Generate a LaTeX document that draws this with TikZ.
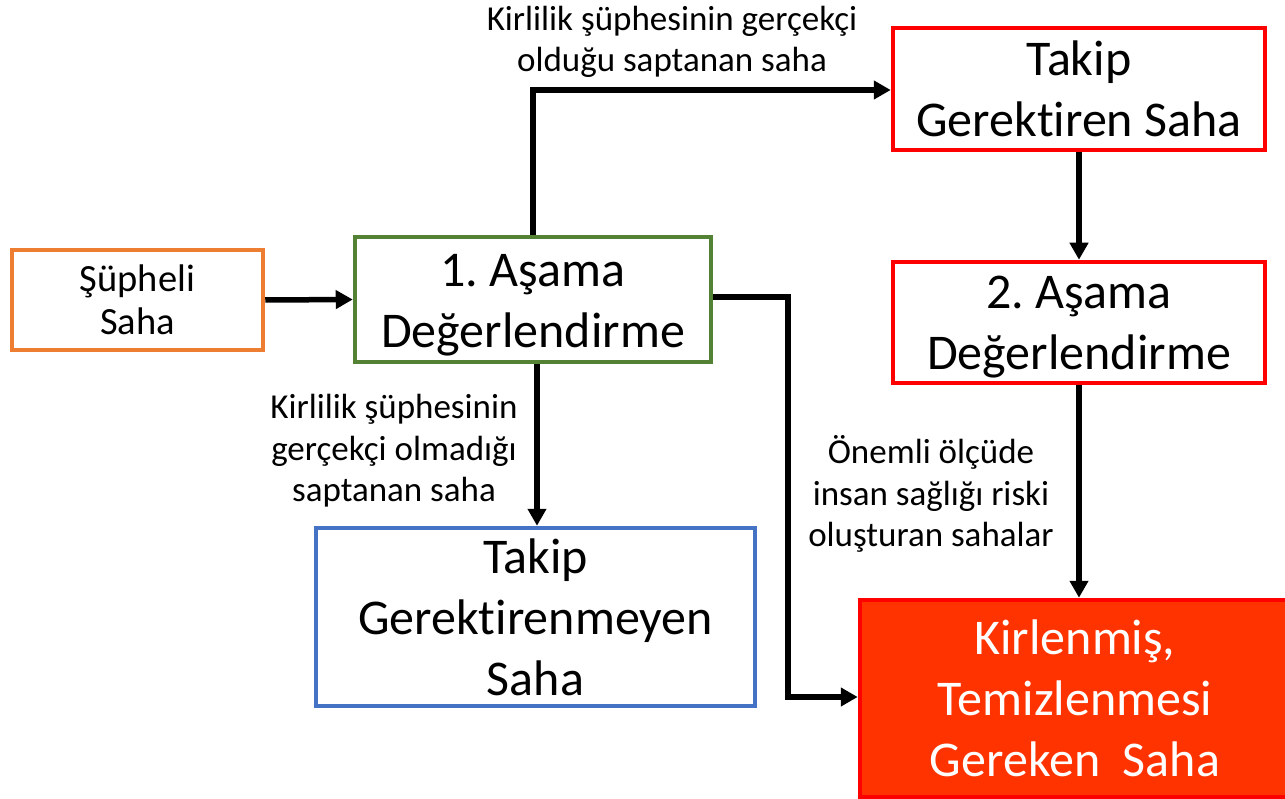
\documentclass[tikz,border=0pt]{standalone}
\usepackage{fontspec}
\setmainfont{Carlito}[Ligatures=NoCommon]
\frenchspacing
\usetikzlibrary{arrows.meta}
\definecolor{orangeb}{HTML}{ED7D31}
\definecolor{greenb}{HTML}{548235}
\definecolor{blueb}{HTML}{4472C4}
\definecolor{redb}{HTML}{FF0000}
\definecolor{redfill}{HTML}{FF3300}
\tikzset{
  box/.style={draw, line width=4.5pt, align=center, inner sep=0pt},
  bigtxt/.style={font=\fontsize{50}{61}\selectfont},
  txt/.style={align=center, inner sep=0pt},
  lbl/.style={align=center, inner sep=0pt, font=\fontsize{35}{41.5}\selectfont},
  conn/.style={line width=5.5pt, -{Triangle[length=17pt,width=18pt]}},
}
\begin{document}
\begin{tikzpicture}[x=1pt,y=-1pt]
\useasboundingbox (0,0) rectangle (1285,799);
\node[box, draw=orangeb, minimum width=251pt, minimum height=100pt, font=\fontsize{38.5}{43}\selectfont] (sup) at (137.5,300) {Şüpheli\\Saha};
\node[box, draw=greenb, minimum width=356pt, minimum height=125pt] (a1) at (533,299.5) {};
\node[txt, bigtxt] (a1t) at ([yshift=-6pt]a1.center) {1. Aşama\\Değerlendirme};
\node[box, bigtxt, draw=redb, minimum width=372pt, minimum height=122pt] (tg) at (1079,89) {Takip\\Gerektiren Saha};
\node[box, draw=redb, minimum width=372pt, minimum height=121pt] (a2) at (1079,322.5) {};
\node[txt, bigtxt] (a2t) at ([yshift=-5pt]a2.center) {2. Aşama\\Değerlendirme};
\node[box, bigtxt, draw=blueb, minimum width=439pt, minimum height=178pt] (tgm) at (535.5,617) {Takip\\Gerektirenmeyen\\Saha};
\node[box, bigtxt, draw=redb, fill=redfill, text=white, minimum width=430pt, minimum height=197pt] (kir) at (1075,698.5) {Kirlenmiş,\\Temizlenmesi\\Gereken~~Saha};

\draw[conn] (sup.east) -- (a1.west);
\coordinate (c1) at (533,90);
\draw[conn] (a1.north) -- (c1) -- (tg.west |- c1);
\draw[conn] (tg.south) -- (a2.north);
\draw[conn] (a1.south -| 537,0) -- (tgm.north -| 537,0);
\coordinate (c2) at (788,297);
\coordinate (c3) at (788,697);
\draw[conn] (a1.east |- c2) -- (c2) -- (c3) -- (kir.west |- c3);
\draw[conn] (a2.south) -- (kir.north -| a2.south);

\node[lbl] (l1) at (672,42) {Kirlilik şüphesinin gerçekçi\\olduğu saptanan saha};
\node[lbl] (l2) at (394,451) {Kirlilik şüphesinin\\gerçekçi olmadığı\\saptanan saha};
\node[lbl] (l3) at (931,494) {Önemli ölçüde\\insan sağlığı riski\\oluşturan sahalar};
\end{tikzpicture}
\end{document}
